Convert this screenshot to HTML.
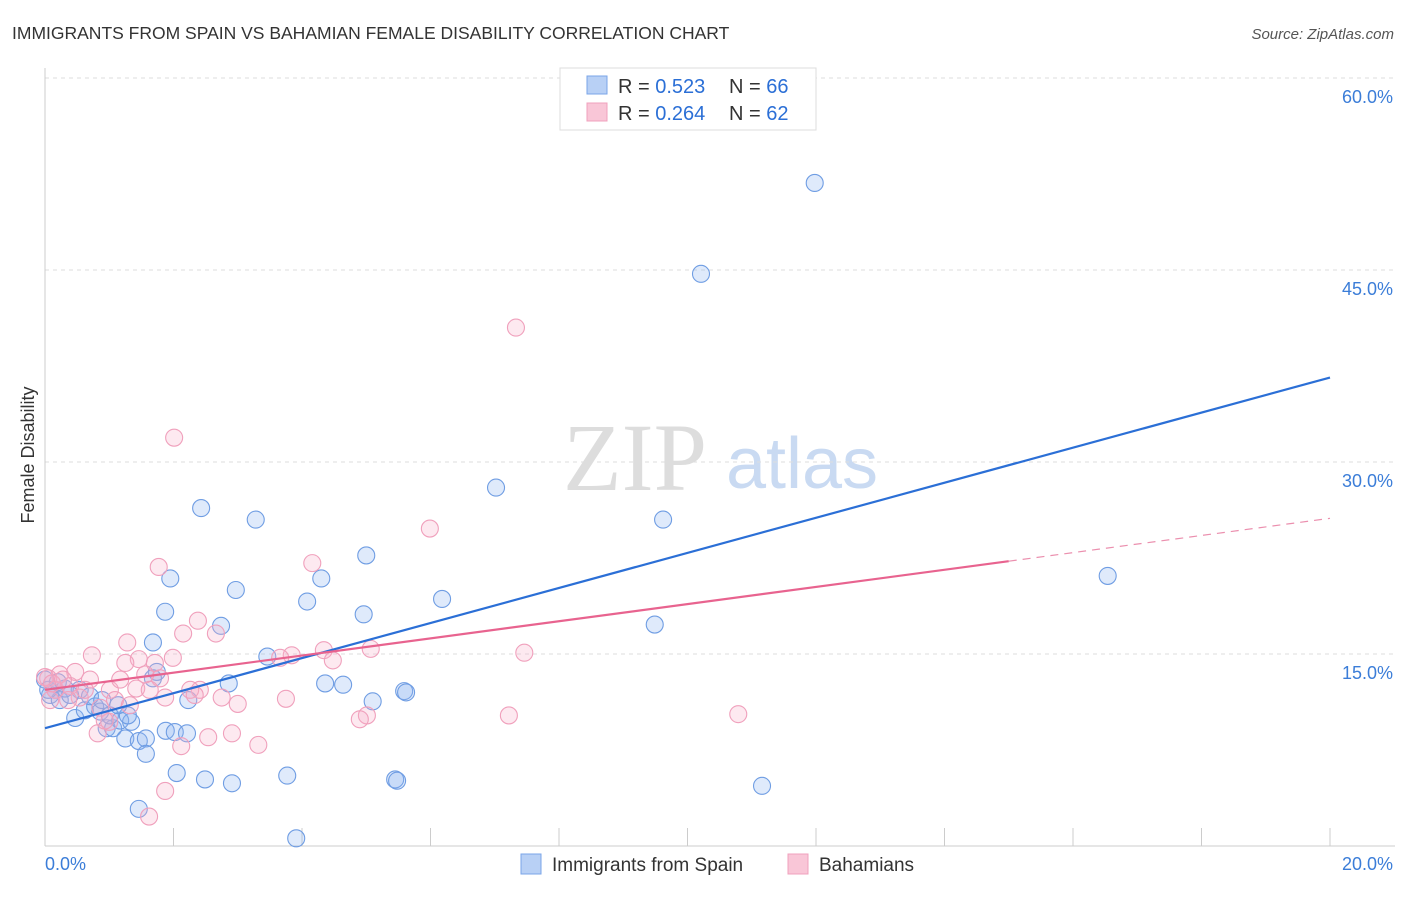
<!DOCTYPE html>
<html><head><meta charset="utf-8">
<style>
body{margin:0;background:#fff;font-family:"Liberation Sans",sans-serif;}
svg text{font-family:"Liberation Sans",sans-serif;}
</style></head>
<body>
<svg id="chart" width="1406" height="892">
<text x="12" y="39" font-size="17.5" fill="#333">IMMIGRANTS FROM SPAIN VS BAHAMIAN FEMALE DISABILITY CORRELATION CHART</text>
<text x="1394" y="39" font-size="15" fill="#555" text-anchor="end" font-style="italic">Source: ZipAtlas.com</text>
<text x="34" y="455" font-size="18" fill="#333" text-anchor="middle" transform="rotate(-90 34 455)">Female Disability</text>
<g>
<text x="635" y="490" font-size="96" fill="#ddd" text-anchor="middle" style="font-family:'Liberation Serif',serif">ZIP</text>
<text x="802" y="488" font-size="72" fill="#c9daf2" text-anchor="middle">atlas</text>
</g>
<g id="grid"></g><g id="axes"></g><g id="pts"></g><g id="lines"></g>
<g>
<rect x="560" y="68" width="256" height="62" fill="#fff" stroke="#ddd"/>
<rect x="587" y="76" width="20" height="18" fill="#b8d0f5" stroke="#7aa5e8"/>
<rect x="587" y="103" width="20" height="18" fill="#f9c6d7" stroke="#f0a0bc"/>
<text x="618" y="93" font-size="20" fill="#333">R = <tspan fill="#2b6fd6">0.523</tspan></text>
<text x="729" y="93" font-size="20" fill="#333">N = <tspan fill="#2b6fd6">66</tspan></text>
<text x="618" y="120" font-size="20" fill="#333">R = <tspan fill="#2b6fd6">0.264</tspan></text>
<text x="729" y="120" font-size="20" fill="#333">N = <tspan fill="#2b6fd6">62</tspan></text>
</g>
<g>
<rect x="521" y="854" width="20" height="20" fill="#b8d0f5" stroke="#7aa5e8"/>
<text x="552" y="871" font-size="19" fill="#333">Immigrants from Spain</text>
<rect x="788" y="854" width="20" height="20" fill="#f9c6d7" stroke="#f0a0bc"/>
<text x="819" y="871" font-size="19" fill="#333">Bahamians</text>
</g>
</svg>
<script>
const yTicks=[15,30,45,60];
const yTickLabels=["15.0%","30.0%","45.0%","60.0%"];
const xTicks=[0,2,4,6,8,10,12,14,16,18,20];
const blueX=[11.98,10.21,7.02,9.62,2.43,3.28,5.0,4.30,1.95,2.97,16.54,4.08,1.87,4.96,6.18,2.74,9.49,1.68,3.46,4.36,4.64,5.59,5.62,5.10,2.86,2.23,1.74,1.68,0.0,0.08,0.23,0.47,0.62,0.78,0.96,1.06,1.17,1.25,1.34,1.46,1.57,1.88,2.02,2.21,1.57,2.05,2.49,2.91,3.77,5.45,5.48,11.16,1.46,3.91,0.16,0.31,0.54,0.70,0.86,1.01,1.29,0.39,0.05,0.20,0.89,1.14];
const blueY=[51.8,44.7,28.0,25.5,26.4,25.5,22.7,20.9,20.9,20.0,21.1,19.1,18.3,18.1,19.3,17.2,17.3,15.9,14.8,12.7,12.6,12.1,12.0,11.3,12.7,11.4,13.6,13.1,13.0,11.8,11.4,10.0,10.6,10.9,9.2,9.2,9.8,8.4,9.7,8.2,8.4,9.0,8.9,8.8,7.2,5.7,5.2,4.9,5.5,5.2,5.1,4.7,2.9,0.6,12.2,12.3,12.2,11.7,10.5,10.2,10.2,11.8,12.2,12.8,11.4,11.0];
const pinkX=[7.33,2.01,5.99,4.16,1.77,2.38,2.15,2.66,1.28,0.73,1.46,1.99,3.84,4.34,4.48,5.07,7.46,1.71,1.25,0.47,0.70,0.23,0.05,0.16,0.39,1.01,1.42,1.79,1.56,2.41,1.09,1.87,2.75,3.00,3.75,5.01,4.90,7.22,10.79,0.86,1.32,0.82,1.00,2.12,2.54,2.91,3.32,1.87,1.62,0.0,0.11,0.28,0.54,1.17,2.26,3.66,0.08,0.62,1.63,2.33,0.93,0.36];
const pinkY=[40.5,31.9,24.8,22.1,21.8,17.6,16.6,16.6,15.9,14.9,14.6,14.7,14.9,15.3,14.5,15.4,15.1,14.3,14.3,13.6,13.0,13.4,13.1,12.2,12.5,12.2,12.3,13.1,13.4,12.2,11.4,11.6,11.6,11.1,11.5,10.2,9.9,10.2,10.3,10.8,11.0,8.8,9.7,7.8,8.5,8.8,7.9,4.3,2.3,13.2,12.7,13.0,11.6,13.0,12.2,14.7,11.4,12.2,12.2,11.8,9.8,11.4];
const blueFit=[9.2,36.6];
const pinkFit=[12.2,25.6];
const pinkSolidEnd=15;
const NS="http://www.w3.org/2000/svg";
const X=v=>45+v*64.25, Y=v=>846-v*12.8;
function mk(tag,attrs,parent){const e=document.createElementNS(NS,tag);for(const k in attrs)e.setAttribute(k,attrs[k]);document.getElementById(parent).appendChild(e);return e;}
yTicks.forEach((t,i)=>{
 const g=mk('line',{x1:45,x2:1395,y1:Y(t),y2:Y(t),stroke:'#ddd','stroke-dasharray':'4,4'},'grid');
 
 
 const l=mk('text',{x:1393,y:Y(t)+25,'font-size':18,fill:'#3b7dd8','text-anchor':'end'},'grid');
 l.textContent=yTickLabels[i];
 
 
});
const a1=mk('line',{x1:45,x2:45,y1:68,y2:846,stroke:'#ccc'},'axes');


const a2=mk('line',{x1:45,x2:1395,y1:846,y2:846,stroke:'#ccc'},'axes');


xTicks.forEach(t=>{const k=mk('line',{x1:X(t),x2:X(t),y1:828,y2:846,stroke:'#ccc'},'axes');
 
 });
const xl0=mk('text',{x:45,y:870,'font-size':18,fill:'#3b7dd8'},'axes');xl0.textContent='0.0%';


const xl1=mk('text',{x:1393,y:870,'font-size':18,fill:'#3b7dd8','text-anchor':'end'},'axes');xl1.textContent='20.0%';


blueX.forEach((x,i)=>{const c=mk('circle',{cx:X(x),cy:Y(blueY[i]),r:8.5,fill:'rgba(140,180,240,0.28)',stroke:'#6f9de3','stroke-width':1.1},'pts');
 
 });
pinkX.forEach((x,i)=>{const c=mk('circle',{cx:X(x),cy:Y(pinkY[i]),r:8.5,fill:'rgba(248,175,200,0.28)',stroke:'#f0a0bc','stroke-width':1.1},'pts');
 
 });
const bl=mk('line',{x1:X(0),y1:Y(blueFit[0]),x2:X(20),y2:Y(blueFit[1]),stroke:'#2b6fd6','stroke-width':2.2},'lines');


const pm=pinkFit[0]+(pinkFit[1]-pinkFit[0])*pinkSolidEnd/20;
const pl=mk('line',{x1:X(0),y1:Y(pinkFit[0]),x2:X(pinkSolidEnd),y2:Y(pm),stroke:'#e8638f','stroke-width':2.2},'lines');


const pd=mk('line',{x1:X(pinkSolidEnd),y1:Y(pm),x2:X(20),y2:Y(pinkFit[1]),stroke:'#eb8fae','stroke-width':1.2,'stroke-dasharray':'8,6'},'lines');


</script>
</body></html>
